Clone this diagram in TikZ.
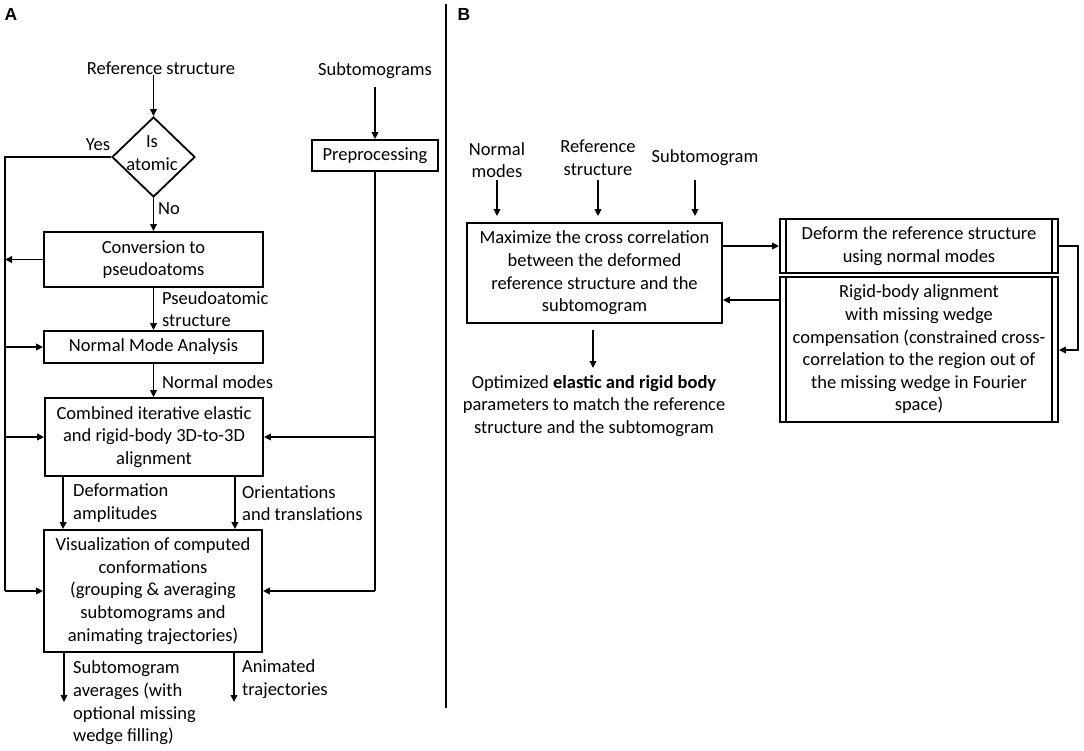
\documentclass[tikz,border=0pt]{standalone}
\usepackage{fontspec}
\setmainfont{Carlito}
\newfontfamily\labfont{Liberation Sans}
\usetikzlibrary{arrows.meta,shapes.geometric}
\begin{document}
\begin{tikzpicture}[x=1pt,y=-1pt,
  txt/.style={font=\fontsize{18.5}{22.6}\selectfont, inner sep=0pt, align=center},
  ltxt/.style={font=\fontsize{18.5}{22.6}\selectfont, inner sep=0pt, align=left, anchor=west},
  box/.style={draw, line width=1.8pt, inner sep=0pt, align=center, font=\fontsize{18.5}{22.6}\selectfont},
  ln/.style={line width=1.8pt},
  arr/.style={line width=1.8pt, -{Triangle[length=7pt,width=6.5pt]}},
  panel/.style={font=\labfont\bfseries\fontsize{17.5}{19}\selectfont, inner sep=0pt}]
\useasboundingbox (0,0) rectangle (1084,750);
\fill[white] (0,0) rectangle (1084,750);

% panel letters and divider
\node[panel] (lA) at (11,14) {A};
\node[panel] (lB) at (464,14) {B};
\draw[ln] (446,4) -- (446,708);

% ---------------- Panel A ----------------
\node[txt] (reftxt) at (161,68) {Reference structure};
\node[diamond, draw, line width=1.8pt, minimum width=83pt, minimum height=80pt, inner sep=0pt] (isat) at (153.5,157) {};
\node[txt] (isattxt) at (152,153) {Is\\atomic};
\node[txt] (yes) at (98,145) {Yes};
\node[txt] (no) at (169,209) {No};

\node[box, minimum width=219pt, minimum height=55pt] (conv) at (153.5,259.5) {Conversion to\\pseudoatoms};
\node[box, minimum width=219pt, minimum height=32pt] (nma) at (153.5,347) {Normal Mode Analysis};
\node[box, minimum width=218pt, minimum height=78pt] (comb) at (154,437) {Combined iterative elastic\\and rigid-body 3D-to-3D\\alignment};
\node[box, minimum width=218pt, minimum height=122pt] (vis) at (153,591) {Visualization of computed\\conformations\\(grouping \& averaging\\subtomograms and\\animating trajectories)};

\node[txt] (subtxt) at (375,71) {Subtomograms};
\node[box, minimum width=126pt, minimum height=31pt] (prep) at (375,155.5) {Preprocessing};

\coordinate (bt) at (5,157);
\coordinate (bb) at (5,591);
\coordinate (rb) at (375,591);
\coordinate (o1) at (64,702);
\coordinate (o2) at (234,702);

\draw[arr] (reftxt.south -| isat.north) -- (isat.north);
\draw[arr] (isat.south) -- (conv.north -| isat.south);
\draw[ln] (isat.west) -- (bt) -- (bb);
\draw[arr] (conv.west) -- (conv.west -| bt);
\draw[arr] (conv.south -| isat.south) -- (nma.north -| isat.south);
\draw[arr] (nma.west -| bt) -- (nma.west);
\draw[arr] (nma.south) -- (comb.north -| nma.south);
\draw[arr] (comb.west -| bt) -- (comb.west);
\draw[arr] (bb) -- (vis.west);

\draw[arr] ([yshift=-8pt]subtxt.south) -- (prep.north);
\draw[ln] (prep.south) -- (rb);
\draw[arr] (comb.east -| rb) -- (comb.east);
\draw[arr] (rb) -- (vis.east);

\draw[arr] ([xshift=19pt]comb.south west) -- ([xshift=20pt]vis.north west);
\draw[arr] ([xshift=-29pt]comb.south east) -- ([xshift=-28pt]vis.north east);
\draw[arr] (vis.south -| o1) -- (o1);
\draw[arr] (vis.south -| o2) -- (o2);

\node[ltxt] (l1) at (162,309) {Pseudoatomic\\structure};
\node[ltxt] (l2) at (162,382) {Normal modes};
\node[ltxt] (l3) at (73,503) {Deformation\\amplitudes};
\node[ltxt] (l4) at (242,503) {Orientations\\and translations};
\node[ltxt] (l5) at (73,703) {Subtomogram\\averages (with\\optional missing\\wedge filling)};
\node[ltxt] (l6) at (242,679) {Animated\\trajectories};

% ---------------- Panel B ----------------
\node[txt] (nmtxt) at (497,160) {Normal\\modes};
\node[txt] (rstxt) at (598,158) {Reference\\structure};
\node[txt] (sttxt) at (705,158) {Subtomogram};

\node[box, minimum width=255pt, minimum height=100pt] (maxb) at (594.5,273) {Maximize the cross correlation\\between the deformed\\reference structure and the\\subtomogram};
\node[box, minimum width=278pt, minimum height=54pt] (defb) at (919,246) {Deform the reference structure\\using normal modes};
\node[box, minimum width=278pt, minimum height=145pt] (rigb) at (919,349.5) {Rigid-body alignment\\with missing wedge\\compensation (constrained cross-\\correlation to the region out of\\the missing wedge in Fourier\\space)};
\draw[ln] ([xshift=7pt]defb.north west) -- ([xshift=7pt]defb.south west);
\draw[ln] ([xshift=-7pt]defb.north east) -- ([xshift=-7pt]defb.south east);
\draw[ln] ([xshift=7pt]rigb.north west) -- ([xshift=7pt]rigb.south west);
\draw[ln] ([xshift=-7pt]rigb.north east) -- ([xshift=-7pt]rigb.south east);

\node[txt] (outtxt) at (594,406) {Optimized \textbf{elastic and rigid body}\\parameters to match the reference\\structure and the subtomogram};

\coordinate (a1) at (497,180);
\coordinate (a2) at (598,180);
\coordinate (a3) at (695,180);
\coordinate (rc1) at (1078,246);
\coordinate (rc2) at (1078,350);
\coordinate (ob) at (593,368);

\draw[arr, shorten >=6pt] (a1) -- (a1 |- maxb.north);
\draw[arr, shorten >=6pt] (a2) -- (a2 |- maxb.north);
\draw[arr, shorten >=6pt] (a3) -- (a3 |- maxb.north);
\draw[arr] (maxb.east |- defb.west) -- (defb.west);
\draw[arr] (rigb.west |- 0,300) -- (maxb.east |- 0,300);
\draw[arr] (defb.east) -- (rc1) -- (rc2) -- (rigb.east |- rc2);
\draw[arr, shorten <=6pt] (maxb.south -| ob) -- (ob);
\end{tikzpicture}
\end{document}
